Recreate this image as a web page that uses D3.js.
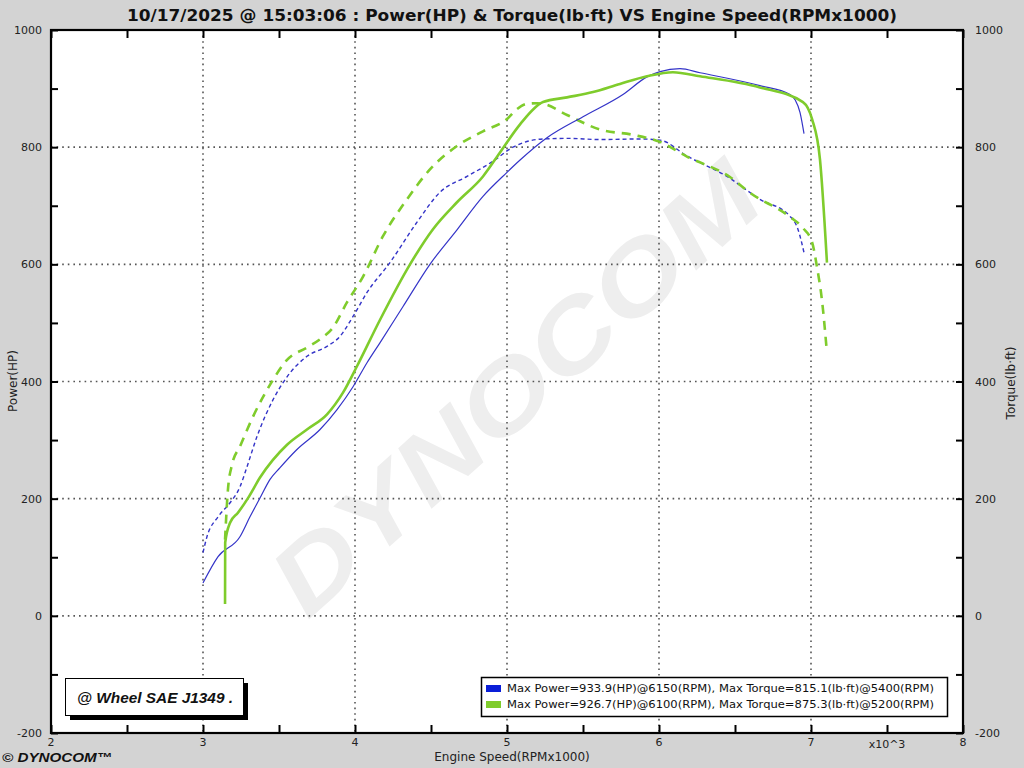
<!DOCTYPE html>
<html><head><meta charset="utf-8">
<script src="https://cdn.jsdelivr.net/npm/d3@7"></script>
<style>html,body{margin:0;padding:0;background:#d3d3d3;}svg{display:block;}</style>
</head><body>
<svg id="c" width="1024" height="768"></svg>
<script>
const titleText = "10/17/2025 @ 15:03:06 : Power(HP) & Torque(lb·ft) VS Engine Speed(RPMx1000)";
const xTicks = [2,3,4,5,6,7,8];
const yTicks = [-200,0,200,400,600,800,1000];
const legendLabels = [
  "Max Power=933.9(HP)@6150(RPM), Max Torque=815.1(lb·ft)@5400(RPM)",
  "Max Power=926.7(HP)@6100(RPM), Max Torque=875.3(lb·ft)@5200(RPM)"
];
// Run 1 (blue)
const bluePower = [[3.000,56],[3.099,101],[3.243,135],[3.309,169],[3.375,201],[3.441,233],[3.507,253],[3.618,284],[3.770,318],[3.882,352],[3.987,391],[4.079,432],[4.164,466],[4.316,528],[4.493,600],[4.671,659],[4.842,716],[5.000,757],[5.086,778],[5.263,816],[5.500,852],[5.763,890],[5.921,920],[6.007,929],[6.138,934],[6.270,927],[6.664,905],[6.862,890],[6.895,881],[6.928,859],[6.954,823]];
const blueTorque = [[3.000,108],[3.026,135],[3.099,169],[3.178,193],[3.243,220],[3.289,254],[3.355,306],[3.461,369],[3.553,408],[3.684,443],[3.816,460],[3.901,477],[3.987,511],[4.079,552],[4.230,603],[4.408,672],[4.559,723],[4.737,750],[4.908,776],[5.039,800],[5.237,814],[5.400,815],[5.612,813],[5.875,814],[6.007,812],[6.184,785],[6.447,750],[6.664,711],[6.862,682],[6.914,660],[6.954,620]];
// Run 2 (green)
const greenPower = [[3.145,20],[3.146,125],[3.178,159],[3.230,176],[3.296,201],[3.375,236],[3.553,292],[3.684,318],[3.816,344],[3.921,381],[4.013,426],[4.164,505],[4.362,600],[4.513,660],[4.671,706],[4.842,750],[4.954,791],[5.086,839],[5.237,877],[5.395,885],[5.566,894],[5.743,908],[5.921,921],[6.092,928],[6.270,921],[6.664,902],[6.947,877],[7.007,848],[7.059,779],[7.105,603]];
const greenTorque = [[3.145,130],[3.164,215],[3.191,258],[3.243,289],[3.329,340],[3.461,403],[3.553,437],[3.684,458],[3.770,472],[3.855,492],[3.947,535],[4.053,579],[4.184,648],[4.342,711],[4.493,762],[4.671,802],[4.842,827],[5.000,848],[5.066,865],[5.132,874],[5.200,875],[5.237,874],[5.395,855],[5.612,830],[5.829,821],[6.007,809],[6.184,784],[6.467,749],[6.599,722],[6.862,681],[6.947,662],[7.007,638],[7.039,596],[7.072,539],[7.105,449]];

const BLUE = "#3434c8", GREEN = "#7fcc2c";
const svg = d3.select("#c");
const L = 51, R = 963, T = 30, B = 733;
const x = d3.scaleLinear().domain([2,8]).range([L,R]);
const y = d3.scaleLinear().domain([-200,1000]).range([B,T]);
const font = "'DejaVu Sans', Verdana, sans-serif";

// plot background
svg.append("rect").attr("x",L).attr("y",T).attr("width",R-L).attr("height",B-T).attr("fill","#fff");

// watermark
svg.append("text").attr("transform","translate(515,388) rotate(-42)")
  .attr("text-anchor","middle").attr("dominant-baseline","central")
  .attr("font-family","'Liberation Sans', Arial, sans-serif").attr("font-weight","bold").attr("font-style","italic")
  .attr("font-size",98).attr("textLength",620).attr("lengthAdjust","spacingAndGlyphs")
  .attr("fill","#eeeeee").text("DYNOCOM");

// grid
const g = svg.append("g");
g.selectAll(".gx").data(xTicks.slice(1,-1)).enter().append("line")
  .attr("x1",d=>x(d)).attr("x2",d=>x(d)).attr("y1",T).attr("y2",B)
  .attr("stroke","#555").attr("stroke-width",1.6).attr("stroke-dasharray","1.6,4");
g.selectAll(".gy").data(yTicks.slice(1,-1)).enter().append("line")
  .attr("y1",d=>y(d)).attr("y2",d=>y(d)).attr("x1",L).attr("x2",R)
  .attr("stroke","#555").attr("stroke-width",1.6).attr("stroke-dasharray","1.6,4");

// axes ticks (inward)
const xMinor = d3.range(2,8.01,0.5);
const yMinor = d3.range(-200,1001,100);
svg.append("g").attr("transform",`translate(0,${B})`)
  .call(d3.axisTop(x).tickValues(xMinor).tickSize(8).tickFormat(""))
  .call(s=>{s.select(".domain").remove(); s.selectAll("line").attr("stroke","#000").attr("stroke-width",2);});
svg.append("g").attr("transform",`translate(0,${T})`)
  .call(d3.axisBottom(x).tickValues(xMinor).tickSize(8).tickFormat(""))
  .call(s=>{s.select(".domain").remove(); s.selectAll("line").attr("stroke","#000").attr("stroke-width",2);});
svg.append("g").attr("transform",`translate(${L},0)`)
  .call(d3.axisRight(y).tickValues(yMinor).tickSize(7).tickFormat(""))
  .call(s=>{s.select(".domain").remove(); s.selectAll("line").attr("stroke","#000").attr("stroke-width",2);});
svg.append("g").attr("transform",`translate(${R},0)`)
  .call(d3.axisLeft(y).tickValues(yMinor).tickSize(7).tickFormat(""))
  .call(s=>{s.select(".domain").remove(); s.selectAll("line").attr("stroke","#000").attr("stroke-width",2);});

// tick labels
svg.append("g").selectAll("text").data(xTicks).enter().append("text")
  .attr("x",d=>x(d)).attr("y",746).attr("text-anchor","middle")
  .attr("font-family",font).attr("font-size",11).attr("fill","#222").text(d=>d);
svg.append("g").selectAll("text").data(yTicks).enter().append("text")
  .attr("x",42).attr("y",d=>y(d)+4).attr("text-anchor","end")
  .attr("font-family",font).attr("font-size",11).attr("fill","#222").text(d=>d);
svg.append("g").selectAll("text").data(yTicks).enter().append("text")
  .attr("x",975).attr("y",d=>y(d)+4).attr("text-anchor","start")
  .attr("font-family",font).attr("font-size",11).attr("fill","#222").text(d=>d);

// curves
const line = d3.line().x(d=>x(d[0])).y(d=>y(d[1])).curve(d3.curveMonotoneX);
const cp = svg.append("g");
cp.append("path").attr("d",line(blueTorque)).attr("fill","none").attr("stroke",BLUE).attr("stroke-width",1.4).attr("stroke-dasharray","4,3");
cp.append("path").attr("d",line(greenTorque)).attr("fill","none").attr("stroke",GREEN).attr("stroke-width",2.6).attr("stroke-dasharray","9,7");
cp.append("path").attr("d",line(bluePower)).attr("fill","none").attr("stroke",BLUE).attr("stroke-width",1.2);
cp.append("path").attr("d",line(greenPower)).attr("fill","none").attr("stroke",GREEN).attr("stroke-width",2.6);

// frame
svg.append("rect").attr("x",L).attr("y",T).attr("width",R-L).attr("height",B-T)
  .attr("fill","none").attr("stroke","#000").attr("stroke-width",2.2);

// title
svg.append("text").attr("x",512).attr("y",21).attr("text-anchor","middle")
  .attr("font-family",font).attr("font-weight","bold").attr("font-size",16)
  .attr("textLength",770).attr("lengthAdjust","spacingAndGlyphs").attr("fill","#111").text(titleText);

// axis titles
svg.append("text").attr("transform","translate(17,381) rotate(-90)").attr("text-anchor","middle")
  .attr("font-family",font).attr("font-size",12).attr("fill","#222").text("Power(HP)");
svg.append("text").attr("transform","translate(1015,383) rotate(-90)").attr("text-anchor","middle")
  .attr("font-family",font).attr("font-size",12).attr("fill","#222").text("Torque(lb·ft)");
svg.append("text").attr("x",512).attr("y",761).attr("text-anchor","middle")
  .attr("font-family",font).attr("font-size",12).attr("fill","#222").text("Engine Speed(RPMx1000)");
svg.append("text").attr("x",887).attr("y",748).attr("text-anchor","middle")
  .attr("font-family",font).attr("font-size",11).attr("fill","#222").text("x10^3");

// copyright
svg.append("text").attr("x",2).attr("y",762)
  .attr("font-family","'Liberation Sans', Arial, sans-serif").attr("font-weight","bold").attr("font-style","italic")
  .attr("font-size",13).attr("textLength",110).attr("lengthAdjust","spacingAndGlyphs")
  .attr("fill","#111").text("© DYNOCOM™");

// wheel box
svg.append("rect").attr("x",70).attr("y",683).attr("width",178).attr("height",37).attr("fill","#000");
svg.append("rect").attr("x",65.5).attr("y",678.5).attr("width",178).attr("height",37).attr("fill","#fff").attr("stroke","#000").attr("stroke-width",1);
svg.append("text").attr("x",77).attr("y",703)
  .attr("font-family","'Liberation Sans', Arial, sans-serif").attr("font-weight","bold").attr("font-style","italic")
  .attr("font-size",14.5).attr("textLength",156).attr("lengthAdjust","spacingAndGlyphs")
  .attr("fill","#111").text("@ Wheel SAE J1349  .");

// legend
const lg = svg.append("g");
lg.append("rect").attr("x",481.5).attr("y",677.5).attr("width",466).attr("height",39).attr("fill","#fff").attr("stroke","#000").attr("stroke-width",1.5);
const legColors = ["#0a1ed8", GREEN];
legendLabels.forEach((t,i)=>{
  lg.append("rect").attr("x",486).attr("y",685+i*16).attr("width",15).attr("height",7).attr("fill",legColors[i]);
  lg.append("text").attr("x",507).attr("y",692+i*16).attr("font-family",font).attr("font-size",11)
    .attr("textLength",427).attr("lengthAdjust","spacingAndGlyphs").attr("fill","#111").text(t);
});
</script>
</body></html>
